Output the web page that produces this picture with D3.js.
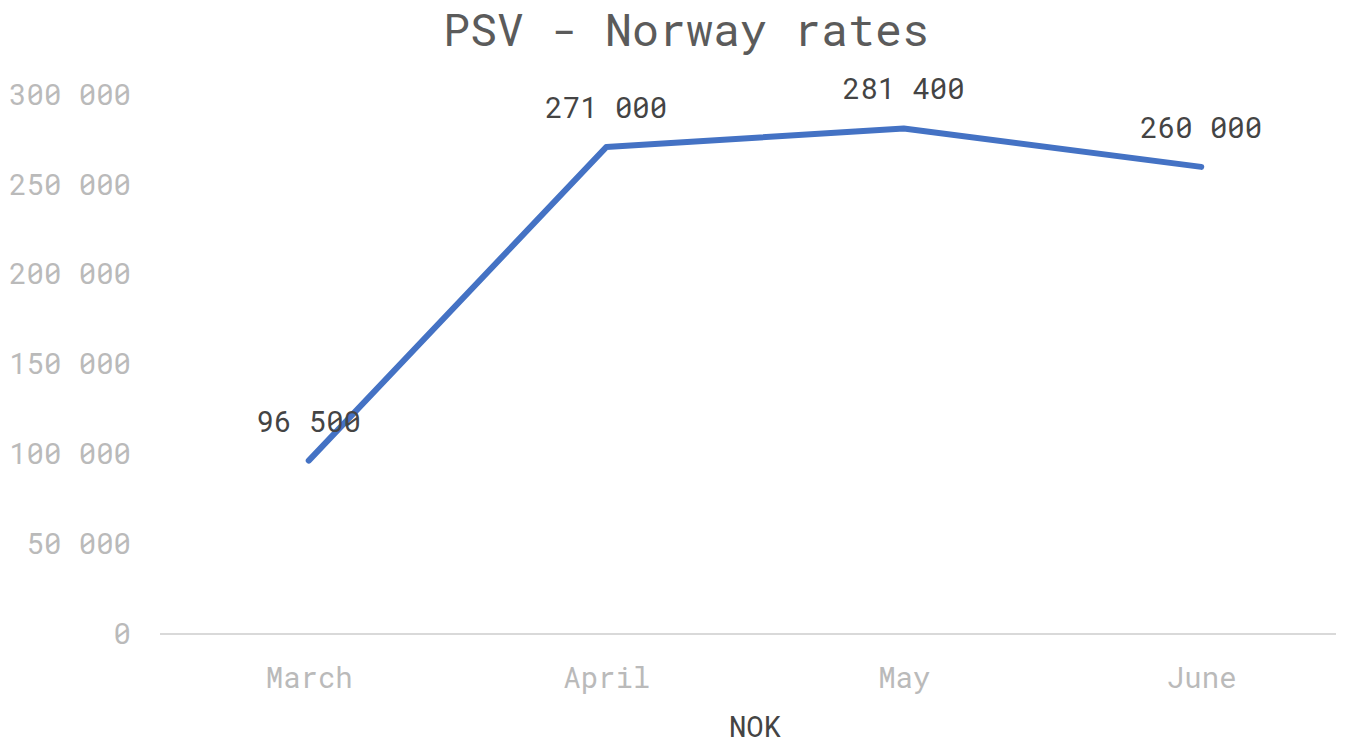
<!DOCTYPE html>
<html lang="en">
<head>
<meta charset="UTF-8" />
<title>PSV - Norway rates</title>
<script src="https://cdn.jsdelivr.net/npm/d3@7"></script>
<style>
  body { margin: 0; background: #fff; }
  text { font-family: "Roboto Mono", "DejaVu Sans Mono", "Liberation Mono", monospace; }
</style>
</head>
<body>
<div id="chart"></div>
<script>
const months = ["March", "April", "May", "June"];
const rates = [96500, 271000, 281400, 260000];
const yTicks = [0, 50000, 100000, 150000, 200000, 250000, 300000];

const w = 1354, h = 745;
const plotLeft = 160, plotRight = 1350, plotTop = 95, plotBottom = 634;

const fmt = v => d3.format(",")(v).replace(/,/g, " ");

const svg = d3.select("#chart").append("svg")
  .attr("width", w).attr("height", h);

const xScale = d3.scalePoint().domain(months).range([plotLeft, plotRight]).padding(0.5);
const yScale = d3.scaleLinear().domain([0, 300000]).range([plotBottom, plotTop]);

// title
svg.append("text")
  .attr("x", 686).attr("y", 46)
  .attr("text-anchor", "middle")
  .attr("font-size", 45)
  .attr("fill", "#5b5b5b")
  .text("PSV - Norway rates");

// y axis labels
const yAxis = svg.append("g")
  .attr("transform", "translate(" + plotLeft + ",0)")
  .call(d3.axisLeft(yScale).tickValues(yTicks).tickFormat(fmt).tickSize(0).tickPadding(29));
yAxis.select(".domain").remove();
yAxis.selectAll("text").attr("font-size", 29).attr("fill", "#bababa").attr("font-family", null);

// baseline
svg.append("line")
  .attr("x1", plotLeft).attr("x2", 1336)
  .attr("y1", yScale(0)).attr("y2", yScale(0))
  .attr("stroke", "#cccccc").attr("stroke-width", 1.5);

// x axis labels
const xAxis = svg.append("g")
  .attr("transform", "translate(0," + plotBottom + ")")
  .call(d3.axisBottom(xScale).tickSize(0).tickPadding(33));
xAxis.select(".domain").remove();
xAxis.selectAll("text").attr("font-size", 29).attr("fill", "#bababa").attr("font-family", null);

// axis title
svg.append("text")
  .attr("x", 755).attr("y", 737)
  .attr("text-anchor", "middle")
  .attr("font-size", 29)
  .attr("fill", "#444")
  .text("NOK");

// line
const line = d3.line()
  .x((d, i) => xScale(months[i]))
  .y(d => yScale(d));

svg.append("path")
  .datum(rates)
  .attr("d", line)
  .attr("fill", "none")
  .attr("stroke", "#4472c4")
  .attr("stroke-width", 6)
  .attr("stroke-linecap", "round")
  .attr("stroke-linejoin", "round");

// data labels
svg.selectAll(".lbl")
  .data(rates)
  .enter()
  .append("text")
  .attr("class", "lbl")
  .attr("x", (d, i) => xScale(months[i]))
  .attr("y", d => yScale(d) - 29)
  .attr("text-anchor", "middle")
  .attr("font-size", 29)
  .attr("fill", "#444")
  .text(d => fmt(d));
</script>
</body>
</html>
